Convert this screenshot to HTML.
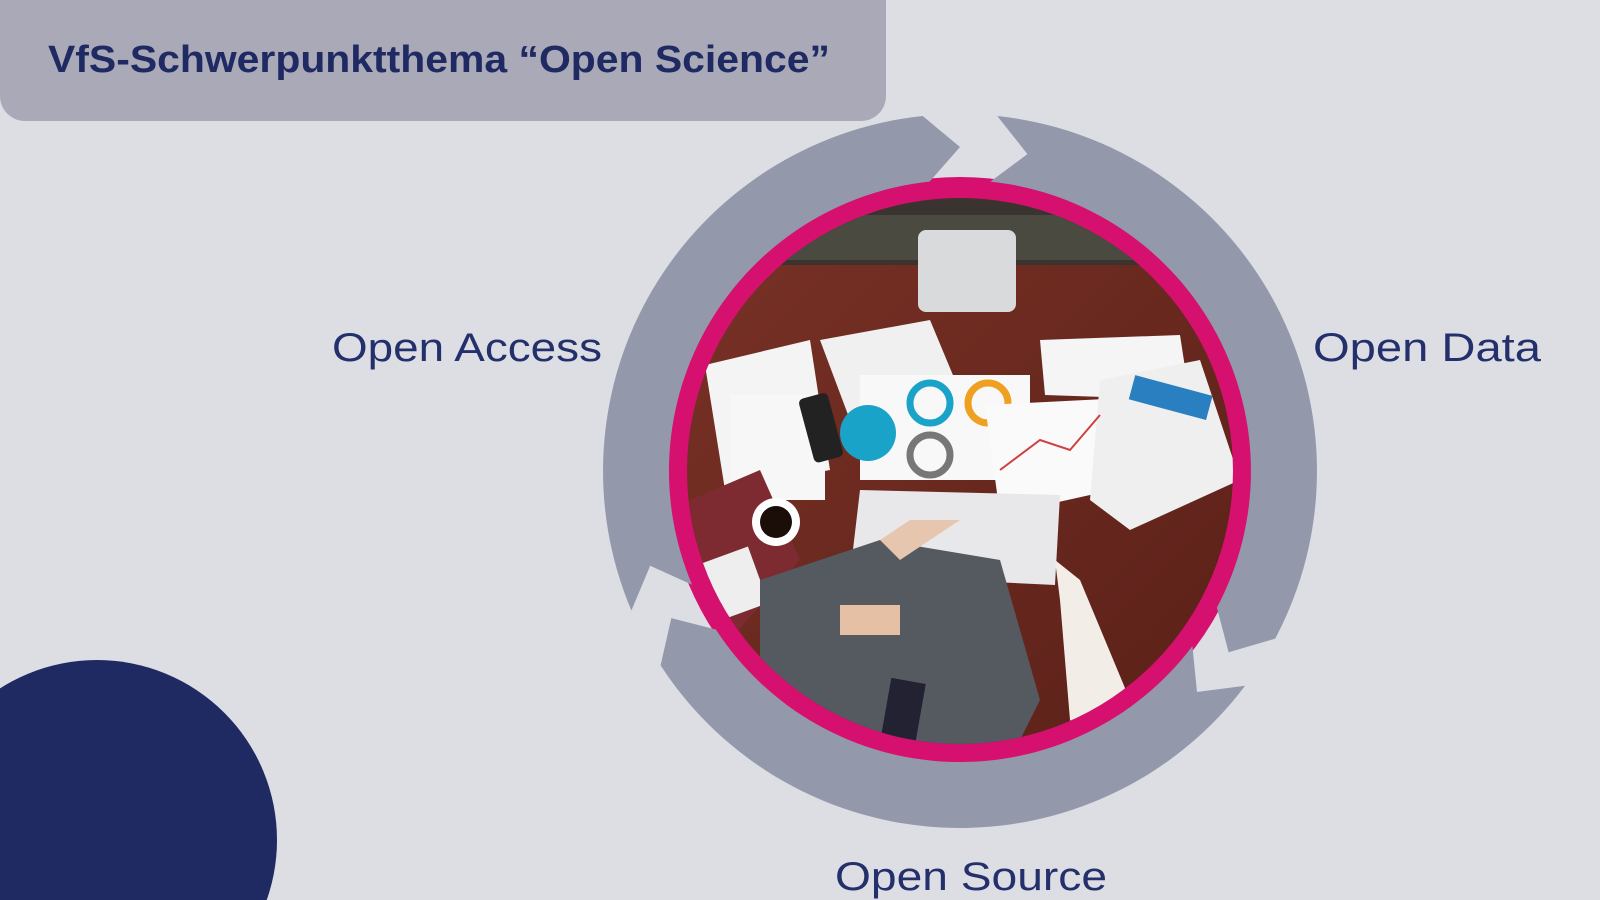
<!DOCTYPE html>
<html><head><meta charset="utf-8"><style>
html,body{margin:0;padding:0;background:#dcdee4;width:1600px;height:900px;overflow:hidden;}
svg{display:block}
</style></head><body>
<svg width="1600" height="900" viewBox="0 0 1600 900" xmlns="http://www.w3.org/2000/svg">
<defs>
<clipPath id="ph"><circle cx="960" cy="471" r="273"/></clipPath>
<linearGradient id="wood" x1="0" y1="0" x2="1" y2="1">
<stop offset="0" stop-color="#7a3226"/><stop offset="1" stop-color="#5a2018"/></linearGradient>
</defs>
<rect width="1600" height="900" fill="#dcdee4"/>
<path d="M0 0H886V96A25 25 0 0 1 861 121H25A25 25 0 0 1 0 96Z" fill="#aaa9b8"/>
<text x="48" y="72" font-family="Liberation Sans, sans-serif" font-weight="bold" font-size="38" fill="#1f2a63" textLength="782" lengthAdjust="spacingAndGlyphs">VfS-Schwerpunktthema “Open Science”</text>
<circle cx="97" cy="840" r="180" fill="#1f2a63"/>

<circle cx="960" cy="471" r="294" fill="#d6106e"/>
<g clip-path="url(#ph)">
<rect x="680" y="190" width="560" height="560" fill="url(#wood)"/>
<rect x="680" y="195" width="560" height="70" fill="#3a3330"/>
<rect x="780" y="215" width="360" height="45" fill="#4a4a40"/>
<rect x="918" y="230" width="98" height="82" rx="8" fill="#d8dadc"/>
<polygon points="705,365 810,340 830,470 725,490" fill="#f4f4f4"/>
<polygon points="820,340 930,320 955,380 850,420" fill="#f0f0f0"/>
<rect x="730" y="395" width="95" height="105" fill="#f7f7f7"/>
<rect x="860" y="375" width="170" height="105" fill="#f8f8f8"/>
<circle cx="930" cy="403" r="20" fill="none" stroke="#1aa3c8" stroke-width="7"/>
<circle cx="988" cy="403" r="20" fill="none" stroke="#f0a020" stroke-width="7"/>
<circle cx="930" cy="455" r="20" fill="none" stroke="#777" stroke-width="7"/>
<circle cx="868" cy="433" r="28" fill="#1aa3c8"/>
<rect x="806" y="395" width="30" height="66" rx="5" transform="rotate(-15 820 428)" fill="#222"/>
<polygon points="985,405 1125,398 1135,485 1000,515" fill="#fafafa"/>
<polygon points="1040,340 1180,335 1190,400 1045,395" fill="#f5f5f5"/>
<polygon points="1100,380 1200,360 1240,480 1130,530 1090,500" fill="#efefef"/>
<rect x="1130" y="385" width="80" height="25" fill="#2a7fc0" transform="rotate(15 1170 400)"/>
<polyline points="1000,470 1040,440 1070,450 1100,415" fill="none" stroke="#d04040" stroke-width="2"/>
<polygon points="690,500 760,470 800,560 730,640 690,600" fill="#7d2a30"/>
<rect x="700" y="555" width="60" height="60" fill="#eee" transform="rotate(-20 730 585)"/>
<circle cx="776" cy="522" r="24" fill="#fff"/><circle cx="776" cy="522" r="16" fill="#1b0d08"/>
<polygon points="860,490 1060,495 1055,585 850,575" fill="#e8e8ea"/>
<polygon points="760,580 880,540 1000,560 1040,700 1010,760 780,760 760,690" fill="#555a60"/>
<polygon points="880,540 910,520 960,520 900,560" fill="#e7c6b0"/>
<polygon points="1055,560 1080,580 1130,700 1100,760 1070,720 1060,600" fill="#f2ede6"/>
<rect x="840" y="605" width="60" height="30" fill="#e5c0a5"/>
<rect x="885" y="680" width="35" height="70" fill="#223" transform="rotate(10 900 715)"/>
</g>

<g fill="#9398ab" id="arcs"></g>

<g font-family="Liberation Sans, sans-serif" font-size="40" fill="#24306b">
<text x="332" y="361" textLength="270" lengthAdjust="spacingAndGlyphs">Open Access</text>
<text x="1313" y="361" textLength="228" lengthAdjust="spacingAndGlyphs">Open Data</text>
<text x="835" y="890" textLength="272" lengthAdjust="spacingAndGlyphs">Open Source</text>
</g>
</svg>
<script>
(function(){
var cx=960,cy=471,ro=357,ri=291,rm=324,d=6;
function p(r,a){a=a*Math.PI/180;return (cx+r*Math.sin(a)).toFixed(1)+","+(cy-r*Math.cos(a)).toFixed(1);}
function arc(a0,a1){
 var large=(a1-a0)>180?1:0;
 return "M"+p(ro,a0)+" A"+ro+","+ro+" 0 "+large+" 1 "+p(ro,a1)+
 " L"+p(rm,a1+d)+" L"+p(ri,a1)+
 " A"+ri+","+ri+" 0 "+large+" 0 "+p(ri,a0)+" L"+p(rm,a0+d)+"Z";
}
var g=document.getElementById("arcs");
[[247,354],[6,118],[127,237]].forEach(function(s){
 var e=document.createElementNS("http://www.w3.org/2000/svg","path");
 e.setAttribute("d",arc(s[0],s[1]));g.appendChild(e);
});
})();
</script>
</body></html>
